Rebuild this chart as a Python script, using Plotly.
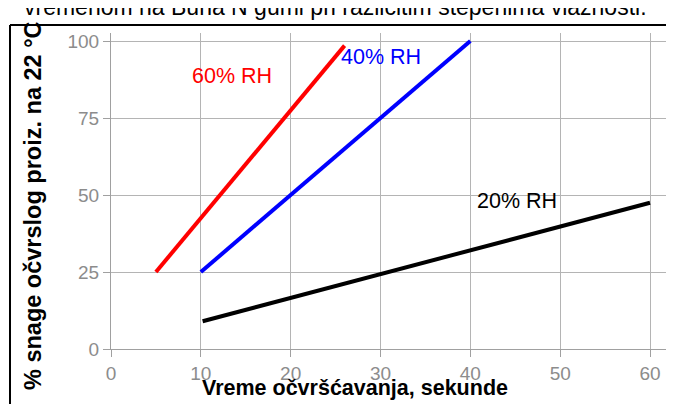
import plotly.graph_objects as go

# Data
x_60 = [5, 26]
y_60 = [25, 98.5]
x_40 = [10, 40]
y_40 = [25, 100]
x_20 = [10.2, 60]
y_20 = [9, 47.5]

x_ticks = [0, 10, 20, 30, 40, 50, 60]
y_ticks = [0, 25, 50, 75, 100]

title_text = "vremenom na Buna N gumi pri različitim stepenima vlažnosti."
x_title = "Vreme očvršćavanja, sekunde"
y_title = "% snage očvrslog proiz. na 22 °C"

FONT = "Liberation Sans, Arial, sans-serif"

# page pixel -> paper helpers (plot area spans x 111..668, y 33..349 on the page)
def px(x):
    return (x - 111) / 557

def py(y):
    return (349 - y) / 316

fig = go.Figure()
fig.add_trace(go.Scatter(x=x_60, y=y_60, mode="lines", line=dict(color="#ff0000", width=4), showlegend=False))
fig.add_trace(go.Scatter(x=x_40, y=y_40, mode="lines", line=dict(color="#0000ff", width=4), showlegend=False))
fig.add_trace(go.Scatter(x=x_20, y=y_20, mode="lines", line=dict(color="#000000", width=4), showlegend=False))

fig.add_annotation(x=8.8, y=88.6, text="60% RH", showarrow=False, xanchor="left", yanchor="middle",
                   font=dict(family=FONT, size=21.5, color="#ff0000"))
fig.add_annotation(x=25.4, y=94.8, text="40% RH", showarrow=False, xanchor="left", yanchor="middle",
                   font=dict(family=FONT, size=21.5, color="#0000ff"))
fig.add_annotation(x=40.5, y=48, text="20% RH", showarrow=False, xanchor="left", yanchor="middle",
                   font=dict(family=FONT, size=21.5, color="#000000"))

# Partially visible title (cut by top of image)
fig.add_annotation(xref="paper", yref="paper", x=px(335.5), y=py(22), text=title_text, showarrow=False,
                   xanchor="center", yanchor="bottom", font=dict(family=FONT, size=23, color="#000000"))
# axis titles
fig.add_annotation(xref="paper", yref="paper", x=px(355), y=py(388), text="<b>" + x_title + "</b>",
                   showarrow=False, xanchor="center", yanchor="middle", font=dict(family=FONT, size=21.5, color="#000"))
fig.add_annotation(xref="paper", yref="paper", x=px(33), y=py(206), text="<b>" + y_title + "</b>",
                   showarrow=False, textangle=-90, xanchor="center", yanchor="middle",
                   font=dict(family=FONT, size=23.5, color="#000"))

# frame lines
fig.add_shape(type="line", xref="paper", yref="paper", x0=px(10), x1=px(700), y0=py(25), y1=py(25),
              line=dict(color="#000", width=2), layer="below")
fig.add_shape(type="line", xref="paper", yref="paper", x0=px(10), x1=px(10), y0=py(25), y1=py(420),
              line=dict(color="#000", width=2), layer="below")

axis_common = dict(showgrid=True, gridcolor="#b4b4b4", gridwidth=1, zeroline=False,
                   showline=True, linecolor="#a0a0a0", linewidth=1,
                   ticks="outside", ticklen=7, tickcolor="#a0a0a0",
                   tickfont=dict(family=FONT, size=19, color="#8c8c8c"))

fig.update_xaxes(range=[0, 62], tickvals=x_ticks, **axis_common)
fig.update_yaxes(range=[0, 102.6], tickvals=y_ticks, **axis_common)

# The page has an 8px body margin, so the figure is offset by 8px
fig.update_layout(width=666, height=396, margin=dict(l=103, r=6, t=25, b=55),
                  plot_bgcolor="white", paper_bgcolor="white", showlegend=False)

fig.write_html("out.html")
